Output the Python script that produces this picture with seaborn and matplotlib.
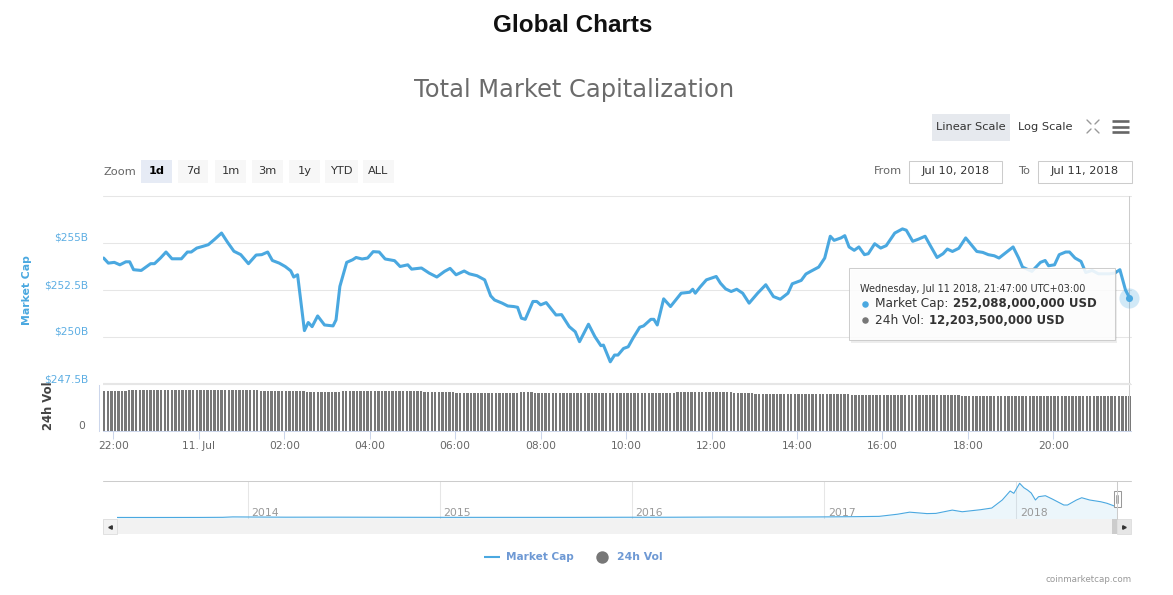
import numpy as np
import pandas as pd
import matplotlib
matplotlib.use('Agg')
import matplotlib.pyplot as plt
import matplotlib.dates as mdates
from matplotlib.patches import Rectangle
from matplotlib.ticker import FuncFormatter
import seaborn as sns

# ---- data ----
# market cap (billions USD), hours after 22:00 on Jul 10 2018
mc_hours = [-0.23, -0.12, 0.02, 0.15, 0.29, 0.38, 0.47, 0.65, 0.87, 0.96,
            1.10, 1.23, 1.37, 1.59, 1.73, 1.82, 1.95, 2.09, 2.22, 2.36,
            2.53, 2.67, 2.82, 2.98, 3.16, 3.34, 3.47, 3.61, 3.72, 3.88,
            4.02, 4.15, 4.22, 4.31, 4.47, 4.56, 4.65, 4.78, 4.94, 5.14,
            5.21, 5.30, 5.46, 5.60, 5.68, 5.82, 5.95, 6.08, 6.22, 6.36,
            6.58, 6.71, 6.89, 6.98, 7.21, 7.39, 7.57, 7.75, 7.88, 8.02,
            8.21, 8.33, 8.51, 8.69, 8.83, 8.92, 9.10, 9.23, 9.37, 9.46,
            9.55, 9.64, 9.82, 9.91, 10.00, 10.13, 10.36, 10.49, 10.67, 10.81,
            10.91, 11.12, 11.27, 11.41, 11.47, 11.63, 11.73, 11.81, 11.94, 12.05,
            12.16, 12.32, 12.41, 12.58, 12.65, 12.73, 12.88, 13.04, 13.29, 13.49,
            13.56, 13.62, 13.73, 13.88, 14.11, 14.21, 14.33, 14.46, 14.59, 14.73,
            14.88, 15.08, 15.27, 15.45, 15.61, 15.79, 15.89, 16.10, 16.21, 16.32,
            16.51, 16.65, 16.78, 16.87, 17.03, 17.12, 17.22, 17.34, 17.45, 17.58,
            17.67, 17.82, 17.96, 18.09, 18.29, 18.47, 18.56, 18.71, 18.85, 19.00,
            19.11, 19.28, 19.42, 19.52, 19.64, 19.79, 19.95, 20.08, 20.21, 20.35,
            20.48, 20.62, 20.73, 20.88, 21.06, 21.19, 21.28, 21.50, 21.70, 21.81,
            21.89, 22.03, 22.14, 22.29, 22.38, 22.51, 22.65, 22.76, 22.91, 23.06,
            23.31, 23.44, 23.56, 23.69, 23.783]
mc_values = [254.20, 253.93, 253.97, 253.84, 254.00, 254.00, 253.58, 253.54, 253.90, 253.90,
             254.20, 254.52, 254.16, 254.16, 254.52, 254.52, 254.73, 254.82, 254.91, 255.18,
             255.53, 255.04, 254.56, 254.38, 253.90, 254.36, 254.38, 254.52, 254.07, 253.93,
             253.75, 253.52, 253.19, 253.31, 250.34, 250.77, 250.55, 251.12, 250.64, 250.59,
             250.91, 252.69, 253.97, 254.11, 254.23, 254.15, 254.20, 254.54, 254.52, 254.15,
             254.06, 253.75, 253.84, 253.61, 253.67, 253.40, 253.19, 253.49, 253.65, 253.31,
             253.51, 253.36, 253.26, 253.04, 252.19, 251.97, 251.80, 251.65, 251.62, 251.58,
             251.00, 250.94, 251.89, 251.89, 251.71, 251.83, 251.17, 251.19, 250.55, 250.28,
             249.75, 250.68, 250.02, 249.54, 249.57, 248.68, 249.04, 249.04, 249.39, 249.48,
             249.93, 250.52, 250.59, 250.94, 250.94, 250.64, 252.03, 251.62, 252.33, 252.38,
             252.54, 252.33, 252.65, 253.04, 253.22, 252.86, 252.56, 252.42, 252.54, 252.33,
             251.80, 252.33, 252.78, 252.15, 252.01, 252.33, 252.83, 253.01, 253.35, 253.49,
             253.72, 254.20, 255.36, 255.14, 255.27, 255.39, 254.79, 254.61, 254.79, 254.38,
             254.43, 254.96, 254.73, 254.86, 255.53, 255.75, 255.68, 255.09, 255.21, 255.36,
             254.91, 254.23, 254.43, 254.68, 254.55, 254.72, 255.27, 254.91, 254.55, 254.50,
             254.38, 254.32, 254.20, 254.47, 254.79, 254.20, 253.72, 253.49, 253.97, 254.07,
             253.79, 253.84, 254.38, 254.52, 254.52, 254.20, 254.02, 253.43, 253.54, 253.36,
             253.36, 253.40, 253.58, 252.51, 252.088]

# 24h volume (billions USD): bar heights come in flat runs of 5-minute bars
vol_levels = [13.96, 14.43, 13.96, 13.61, 13.96, 13.61, 13.26, 13.61, 13.26, 13.61,
              13.26, 12.91, 12.56, 12.2035]
vol_runs = [7, 37, 13, 10, 23, 9, 18, 4, 40, 16, 6, 27, 31, 48]

# navigator: total market cap history (billions USD)
nav_dates = ['2013-04-28', '2013-07-01', '2013-10-01', '2013-11-15', '2013-12-04',
             '2014-01-15', '2014-03-15', '2014-06-15', '2014-09-15', '2014-12-15',
             '2015-03-15', '2015-06-15', '2015-09-15', '2015-12-15', '2016-03-15',
             '2016-06-15', '2016-09-15', '2016-12-15', '2017-01-15', '2017-03-01',
             '2017-04-15', '2017-05-20', '2017-06-12', '2017-07-15', '2017-08-01',
             '2017-09-01', '2017-09-20', '2017-10-25', '2017-11-15', '2017-12-05',
             '2017-12-20', '2017-12-27', '2018-01-07', '2018-01-15', '2018-01-22',
             '2018-01-29', '2018-02-06', '2018-02-12', '2018-02-25', '2018-03-10',
             '2018-04-01', '2018-04-08', '2018-04-25', '2018-05-05', '2018-05-20',
             '2018-06-10', '2018-06-22', '2018-07-11']
nav_values = [1.6, 1.0, 2.0, 5.0, 15.0,
              12.0, 8.0, 8.5, 6.5, 4.5,
              3.9, 3.6, 3.6, 6.4, 7.0,
              11.0, 10.5, 14.0, 16.0, 21.0,
              28.0, 80.0, 130.0, 95.0, 100.0,
              180.0, 140.0, 190.0, 230.0, 425.0,
              643.0, 587.0, 830.0, 723.0, 667.0,
              595.0, 425.0, 505.0, 529.0, 449.0,
              303.0, 303.0, 425.0, 480.0, 425.0,
              383.0, 345.0, 255.0]
nav_years = ['2014', '2015', '2016', '2017', '2018']

y_ticks = [247.5, 250.0, 252.5, 255.0, 257.5]
y_labels = ['$247.5B', '$250B', '$252.5B', '$255B', '']
zoom_buttons = ['1d', '7d', '1m', '3m', '1y', 'YTD', 'ALL']

# ---- style ----
W, H = 1173, 595
sns.set_theme(style='white')
plt.rcParams['font.family'] = ['DejaVu Sans']

BLUE = '#4aa8e0'
LABEL_BLUE = '#5daee3'
GRAY_BAR = '#787878'
AXIS_LINE = '#ccd6eb'
GRID = '#e6e6e6'
TXT = '#333333'
TXT2 = '#666666'

fig = plt.figure(figsize=(W / 100, H / 100), dpi=100)
fig.patch.set_facecolor('white')


def box(x0, y0, x1, y1):
    # pixel box (top-left origin) -> figure fraction rect
    return [x0 / W, 1 - y1 / H, (x1 - x0) / W, (y1 - y0) / H]


ax = fig.add_axes(box(103, 196, 1131, 384))
axv = fig.add_axes(box(103, 384.5, 1131, 430.7), sharex=ax)
axn = fig.add_axes(box(117, 481, 1117, 519))
ov = fig.add_axes([0, 0, 1, 1])
ov.set_xlim(0, W)
ov.set_ylim(H, 0)
ov.axis('off')
ov.set_zorder(10)

# ---- main market cap line ----
base = pd.Timestamp('2018-07-10 22:00')
mc_x = mdates.date2num((base + pd.to_timedelta(mc_hours, unit='h')).values)
sns.lineplot(x=mc_x, y=mc_values, ax=ax, color=BLUE, linewidth=2.2,
             sort=False, estimator=None, legend=False, zorder=3)

x_start = mdates.date2num(np.datetime64('2018-07-10T21:45:18'))
x_end = mdates.date2num(np.datetime64('2018-07-11T21:49:12'))
ax.set_xlim(x_start, x_end)
ax.set_ylim(y_ticks[0], y_ticks[-1])
ax.set_yticks(y_ticks)
ax.set_yticklabels(y_labels)
ax.grid(axis='y', color=GRID, linewidth=0.75)
ax.grid(axis='x', visible=False)
for gl in ax.get_ygridlines():
    gl.set_clip_on(False)
for s in ax.spines.values():
    s.set_visible(False)
ax.tick_params(axis='y', length=0, pad=10.4, labelsize=7.7, labelcolor=LABEL_BLUE)
ax.tick_params(axis='x', bottom=False, labelbottom=False)
for lbl in ax.get_yticklabels():
    lbl.set_va('bottom')
ax.set_xlabel('')
ax.set_ylabel('')

# hovered point
ax.axvline(mc_x[-1], color='#cccccc', linewidth=0.75, zorder=2)
ax.scatter([mc_x[-1]], [mc_values[-1]], s=210, color=BLUE, alpha=0.25,
           linewidths=0, zorder=5, clip_on=False)
ax.scatter([mc_x[-1]], [mc_values[-1]], s=26, color=BLUE, linewidths=0,
           zorder=6, clip_on=False)

# ---- volume bars ----
vol_times = pd.date_range('2018-07-10 21:47', '2018-07-11 21:47', freq='5min')
vol_x = mdates.date2num(vol_times.values)
vol_values = np.repeat(vol_levels, vol_runs)
axv.bar(vol_x, vol_values, width=0.67 * 5 / 1440, color=GRAY_BAR, linewidth=0)
axv.axvline(mc_x[-1], color='#cccccc', linewidth=0.75)
axv.set_ylim(0, 16.26)
axv.set_yticks([0])
axv.set_yticklabels(['0'])
for side in ('top', 'right'):
    axv.spines[side].set_visible(False)
axv.spines['bottom'].set_color(AXIS_LINE)
axv.spines['bottom'].set_linewidth(0.75)
axv.spines['left'].set_color(AXIS_LINE)
axv.spines['left'].set_linewidth(0.75)
axv.spines['left'].set_position(('outward', 3))
axv.tick_params(axis='y', left=False, length=0, pad=10, labelsize=7.7, labelcolor=TXT2)
for lbl in axv.get_yticklabels():
    lbl.set_va('bottom')
axv.tick_params(axis='x', bottom=True, length=5.8, width=0.75, color=AXIS_LINE,
                pad=1.3, labelsize=7.7, labelcolor=TXT2)


def fmt_hour(v, pos):
    d = mdates.num2date(v + 1e-9)
    if d.hour == 0:
        return d.strftime('%d. %b').lstrip('0')
    return d.strftime('%H:%M')


axv.xaxis.set_major_locator(mdates.HourLocator(byhour=range(0, 24, 2)))
axv.xaxis.set_major_formatter(FuncFormatter(fmt_hour))
axv.set_xlim(x_start, x_end)

# ---- navigator ----
nav_x = mdates.date2num(pd.to_datetime(nav_dates).values)
nav_lo = -36
axn.fill_between(nav_x, nav_values, nav_lo, color=BLUE, alpha=0.1, linewidth=0)
sns.lineplot(x=nav_x, y=nav_values, ax=axn, color=BLUE, linewidth=0.8,
             sort=False, estimator=None, legend=False)
axn.set_xlim(nav_x[0], nav_x[-1])
axn.set_ylim(nav_lo, 886)
year_x = mdates.date2num(pd.to_datetime([y + '-01-01' for y in nav_years]).values)
for yx, yl in zip(year_x, nav_years):
    axn.axvline(yx, color=GRID, linewidth=0.75, zorder=0)
    axn.annotate(yl, (yx, 0.16), xycoords=('data', 'axes fraction'),
                 xytext=(2.8, 0), textcoords='offset points', va='center',
                 ha='left', fontsize=7.8, color='#999999')
axn.set_xticks([])
axn.set_yticks([])
for s in axn.spines.values():
    s.set_visible(False)
axn.set_xlabel('')
axn.set_ylabel('')

# ---- overlay: titles, controls, tooltip, legend (pixel coords) ----
ov.text(573, 26, 'Global Charts', ha='center', va='center', fontsize=17.5,
        fontweight='bold', color='#111111', family=['Liberation Sans', 'DejaVu Sans'])
ov.text(574, 90, 'Total Market Capitalization', ha='center', va='center',
        fontsize=17.4, color='#6b6b6b')

# axis titles
ov.text(27.5, 290, 'Market Cap', rotation=90, ha='center', va='center',
        fontsize=7.8, fontweight='bold', color=BLUE)
ov.text(48, 406, '24h Vol', rotation=90, ha='center', va='center',
        fontsize=8.4, fontweight='bold', color='#444444')

# pane separator
ov.plot([103, 1131], [384.2, 384.2], color=GRID, linewidth=1.5, solid_capstyle='butt')

# scale buttons
ov.add_patch(Rectangle((932, 114), 78, 27, facecolor='#e6e9ee', edgecolor='none'))
ov.text(971, 127, 'Linear Scale', ha='center', va='center', fontsize=8.2, color=TXT)
ov.text(1045, 127, 'Log Scale', ha='center', va='center', fontsize=8.2, color=TXT)
for (xa, ya, xb, yb) in [(1087, 120, 1091, 124), (1099, 120, 1095, 124),
                         (1087, 133, 1091, 129), (1099, 133, 1095, 129)]:
    ov.plot([xa, xb], [ya, yb], color='#999999', linewidth=1.0)
for yy in (121, 126.5, 132):
    ov.plot([1112, 1129], [yy, yy], color='#666666', linewidth=1.9, solid_capstyle='butt')

# zoom buttons
ov.text(103, 172, 'Zoom', ha='left', va='center', fontsize=8.2, color=TXT2)
btn_x = [141, 178, 215, 252, 289, 325, 363]
btn_w = [31, 30, 31, 31, 31, 33, 31]
for i, (bx, bw, lab) in enumerate(zip(btn_x, btn_w, zoom_buttons)):
    sel = i == 0
    ov.add_patch(Rectangle((bx, 160), bw, 23, facecolor='#e6ebf5' if sel else '#f7f7f7',
                           edgecolor='none'))
    ov.text(bx + bw / 2, 171.5, lab, ha='center', va='center', fontsize=8.2,
            color='#000000' if sel else TXT, fontweight='bold' if sel else 'normal')

# date range inputs
ov.text(902, 171.5, 'From', ha='right', va='center', fontsize=8.2, color=TXT2)
ov.add_patch(Rectangle((909, 161), 93, 22, facecolor='white', edgecolor='#cccccc', linewidth=0.75))
ov.text(955.5, 171.5, 'Jul 10, 2018', ha='center', va='center', fontsize=8.2, color=TXT)
ov.text(1030, 171.5, 'To', ha='right', va='center', fontsize=8.2, color=TXT2)
ov.add_patch(Rectangle((1038, 161), 94, 22, facecolor='white', edgecolor='#cccccc', linewidth=0.75))
ov.text(1085, 171.5, 'Jul 11, 2018', ha='center', va='center', fontsize=8.2, color=TXT)

# tooltip
ov.add_patch(Rectangle((850.5, 269.5), 266, 73, facecolor='black', alpha=0.07, edgecolor='none'))
ov.add_patch(Rectangle((848.5, 267.5), 266, 72.5, facecolor='white', alpha=0.88,
                       edgecolor='#c8c8c8', linewidth=0.75))
ov.text(860, 289, 'Wednesday, Jul 11 2018, 21:47:00 UTC+03:00', ha='left', va='center',
        fontsize=7.0, color=TXT)
fig.canvas.draw()
renderer = fig.canvas.get_renderer()
rows = [(303.5, BLUE, 'Market Cap:', '252,088,000,000 USD'),
        (320, '#777777', '24h Vol:', '12,203,500,000 USD')]
for yy, col, lab, val in rows:
    ov.scatter([865], [yy], s=22, color=col, linewidths=0)
    t = ov.text(875, yy, lab, ha='left', va='center', fontsize=8.7, color=TXT)
    bb = t.get_window_extent(renderer)
    ov.text(bb.x1 + 5, yy, val, ha='left', va='center', fontsize=8.5,
            fontweight='bold', color=TXT)

# navigator frame, handle and scrollbar
ov.plot([103, 1131], [480.5, 480.5], color='#cccccc', linewidth=0.75)
ov.plot([1117, 1117], [481, 519], color='#cccccc', linewidth=0.75)
ov.add_patch(Rectangle((1114, 491), 6.5, 16, facecolor='white', edgecolor='#999999', linewidth=0.75))
for hx in (1116.3, 1118.3):
    ov.plot([hx, hx], [495, 503], color='#999999', linewidth=0.6)
ov.add_patch(Rectangle((103, 519), 1028, 15, facecolor='#f2f2f2', edgecolor='none'))
ov.add_patch(Rectangle((103, 519), 14, 15, facecolor='#f2f2f2', edgecolor='#dddddd', linewidth=0.6))
ov.add_patch(Rectangle((1112, 519), 5, 15, facecolor='#cccccc', edgecolor='none'))
ov.add_patch(Rectangle((1117, 519), 14, 15, facecolor='#e6e6e6', edgecolor='#dddddd', linewidth=0.6))
ov.plot([110], [526.5], marker='<', markersize=2.5, color='#333333')
ov.plot([1124], [526.5], marker='>', markersize=2.5, color='#333333')

# legend
ov.plot([484, 500], [557, 557], color=BLUE, linewidth=1.5, solid_capstyle='butt')
ov.text(506, 557, 'Market Cap', ha='left', va='center', fontsize=7.6,
        fontweight='bold', color='#6e99d4')
ov.scatter([602], [557], s=80, color='#777777', linewidths=0)
ov.text(617, 557, '24h Vol', ha='left', va='center', fontsize=7.8,
        fontweight='bold', color='#6e99d4')

ov.text(1132, 579, 'coinmarketcap.com', ha='right', va='center', fontsize=6.3, color='#999999')

fig.savefig('out.png', dpi=100, facecolor='white')
